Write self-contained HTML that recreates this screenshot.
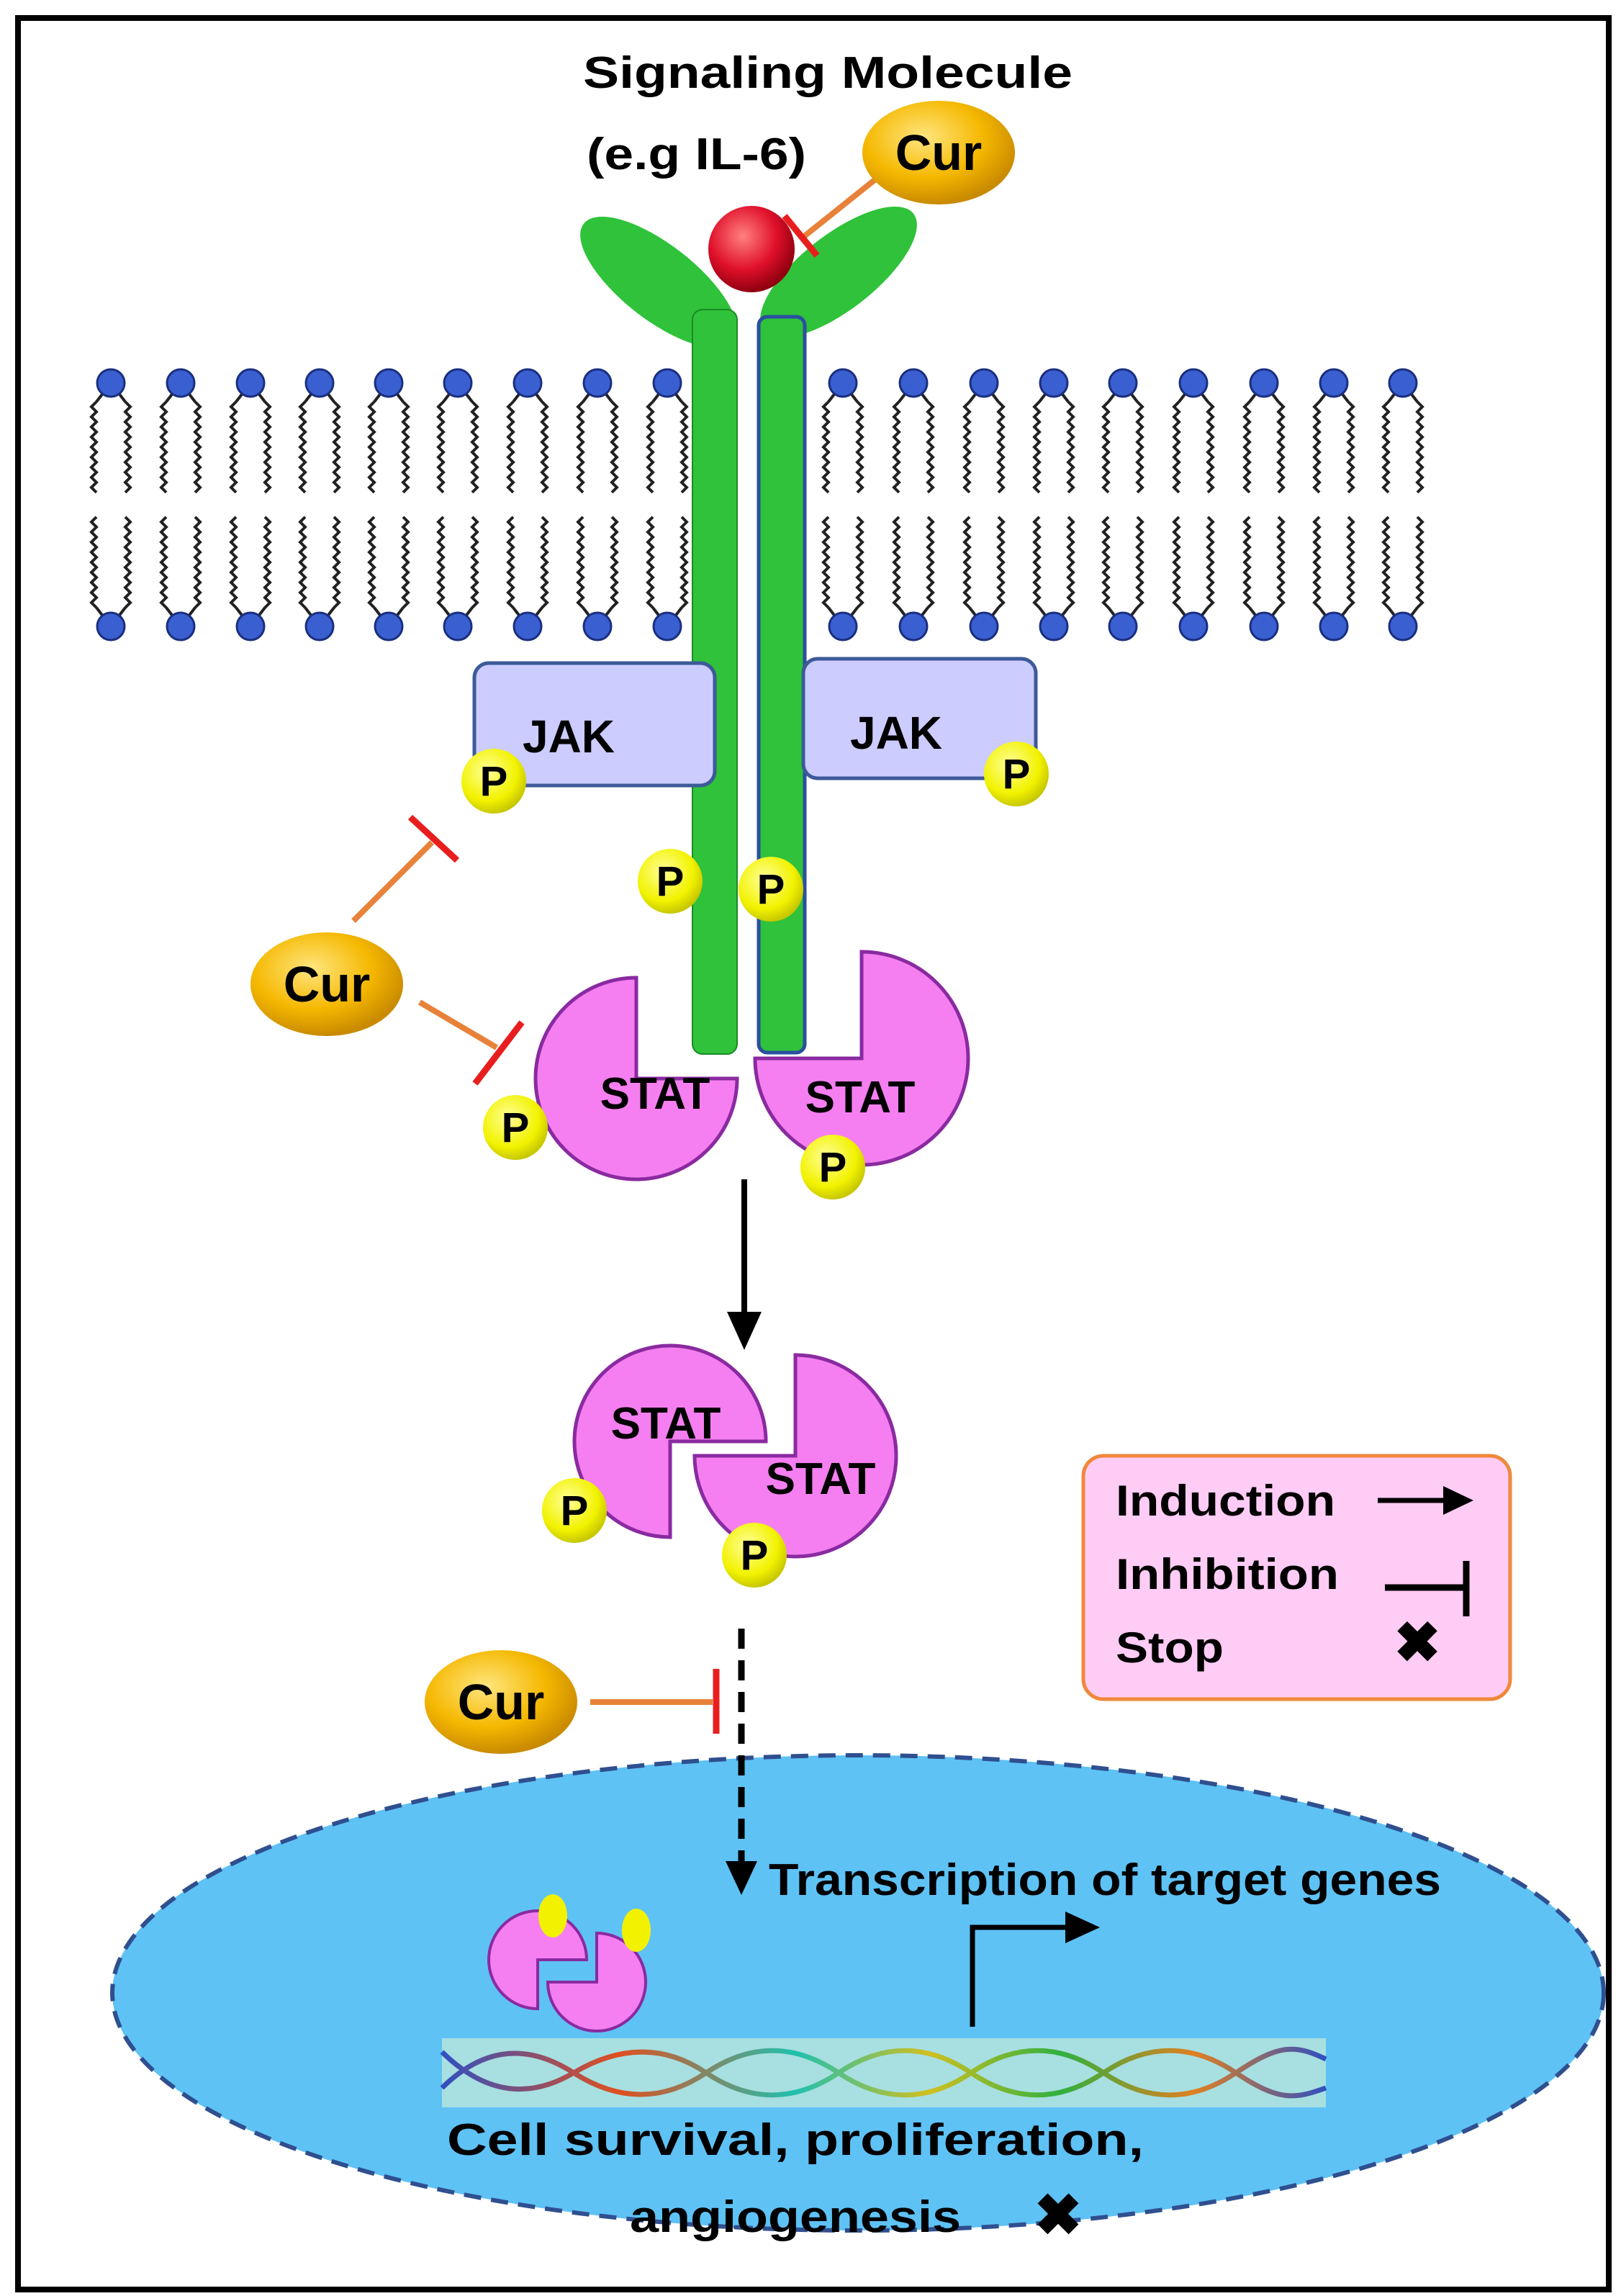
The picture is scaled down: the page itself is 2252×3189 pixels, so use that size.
<!DOCTYPE html>
<html><head><meta charset="utf-8"><style>html,body{margin:0;padding:0;background:#fff}svg{display:block}</style></head>
<body>
<svg width="2252" height="3189" viewBox="0 0 2252 3189" xmlns="http://www.w3.org/2000/svg" font-family="'Liberation Sans', sans-serif" font-weight="bold">
<defs>
<radialGradient id="gold" cx="40%" cy="35%" r="65%"><stop offset="0" stop-color="#ffe680"/><stop offset="0.6" stop-color="#f5b800"/><stop offset="1" stop-color="#c98a00"/></radialGradient>
<radialGradient id="yel" cx="40%" cy="35%" r="65%"><stop offset="0" stop-color="#ffff99"/><stop offset="0.7" stop-color="#f2f200"/><stop offset="1" stop-color="#c8c800"/></radialGradient>
<radialGradient id="red" cx="40%" cy="35%" r="65%"><stop offset="0" stop-color="#ff8080"/><stop offset="0.6" stop-color="#e0102a"/><stop offset="1" stop-color="#900010"/></radialGradient>
<linearGradient id="dnaG" x1="0" x2="1"><stop offset="0" stop-color="#3050c0"/><stop offset="0.2" stop-color="#e05020"/><stop offset="0.4" stop-color="#20c0b0"/><stop offset="0.55" stop-color="#d0c020"/><stop offset="0.7" stop-color="#30b040"/><stop offset="0.85" stop-color="#e08020"/><stop offset="1" stop-color="#3050c0"/></linearGradient>
<g id="lipU">
<path d="M0,0 L-20,26 M0,0 L20,26 M-20,26 l-7,7 l7,7 l-7,7 l7,7 l-7,7 l7,7 l-7,7 l7,7 l-7,7 l7,7 l-7,7 l7,7 l-7,7 l7,7 l-7,7 l7,7 l-7,7 l7,7 M20,26 l7,7 l-7,7 l7,7 l-7,7 l7,7 l-7,7 l7,7 l-7,7 l7,7 l-7,7 l7,7 l-7,7 l7,7 l-7,7 l7,7 l-7,7 l7,7 l-7,7" fill="none" stroke="#222" stroke-width="4"/>
<circle cx="0" cy="0" r="19" fill="#3a5fd0" stroke="#1a2f80" stroke-width="3"/>
</g>
<g id="P"><circle r="45" fill="url(#yel)"/><text x="0" y="20" font-size="58" text-anchor="middle" fill="#000">P</text></g>
<g id="CUR"><ellipse rx="106" ry="72" fill="url(#gold)"/><text x="0" y="24" font-size="70" text-anchor="middle" fill="#000">Cur</text></g>
</defs>

<rect x="25" y="25" width="2210" height="3155" fill="none" stroke="#000" stroke-width="8"/>

<g>
<use href="#lipU" x="154" y="532"/><use href="#lipU" x="251" y="532"/><use href="#lipU" x="348" y="532"/><use href="#lipU" x="444" y="532"/><use href="#lipU" x="540" y="532"/><use href="#lipU" x="636" y="532"/><use href="#lipU" x="733" y="532"/><use href="#lipU" x="830" y="532"/><use href="#lipU" x="927" y="532"/>
<use href="#lipU" x="1171" y="532"/><use href="#lipU" x="1269" y="532"/><use href="#lipU" x="1367" y="532"/><use href="#lipU" x="1464" y="532"/><use href="#lipU" x="1560" y="532"/><use href="#lipU" x="1658" y="532"/><use href="#lipU" x="1756" y="532"/><use href="#lipU" x="1853" y="532"/><use href="#lipU" x="1949" y="532"/>
<g transform="translate(0,1402) scale(1,-1)">
<use href="#lipU" x="154" y="532"/><use href="#lipU" x="251" y="532"/><use href="#lipU" x="348" y="532"/><use href="#lipU" x="444" y="532"/><use href="#lipU" x="540" y="532"/><use href="#lipU" x="636" y="532"/><use href="#lipU" x="733" y="532"/><use href="#lipU" x="830" y="532"/><use href="#lipU" x="927" y="532"/>
<use href="#lipU" x="1171" y="532"/><use href="#lipU" x="1269" y="532"/><use href="#lipU" x="1367" y="532"/><use href="#lipU" x="1464" y="532"/><use href="#lipU" x="1560" y="532"/><use href="#lipU" x="1658" y="532"/><use href="#lipU" x="1756" y="532"/><use href="#lipU" x="1853" y="532"/><use href="#lipU" x="1949" y="532"/>
</g>
</g>

<text x="1150" y="122" font-size="62" text-anchor="middle" textLength="680" lengthAdjust="spacingAndGlyphs">Signaling Molecule</text>
<text x="815" y="235" font-size="62" textLength="305" lengthAdjust="spacingAndGlyphs">(e.g IL-6)</text>

<ellipse cx="915" cy="392" rx="132" ry="52" transform="rotate(38 915 392)" fill="#2fc23a"/>
<ellipse cx="1165" cy="378" rx="132" ry="52" transform="rotate(-38 1165 378)" fill="#2fc23a"/>
<rect x="962" y="430" width="62" height="1034" rx="14" fill="#2fc23a" stroke="#1a8a25" stroke-width="2"/>
<rect x="1054" y="440" width="64" height="1022" rx="12" fill="#2fc23a" stroke="#2a4fa0" stroke-width="5"/>
<circle cx="1044" cy="346" r="60" fill="url(#red)"/>

<line x1="1215" y1="250" x2="1115" y2="330" stroke="#e8823a" stroke-width="8"/>
<line x1="1090" y1="300" x2="1135" y2="355" stroke="#e81e1e" stroke-width="9"/>
<use href="#CUR" x="1304" y="212"/>

<rect x="659" y="921" width="334" height="170" rx="20" fill="#ccccff" stroke="#3d5a99" stroke-width="5"/>
<text x="790" y="1045" font-size="64" text-anchor="middle">JAK</text>
<rect x="1116" y="915" width="323" height="166" rx="20" fill="#ccccff" stroke="#3d5a99" stroke-width="5"/>
<text x="1245" y="1040" font-size="64" text-anchor="middle">JAK</text>

<path d="M884,1498 L884,1358 A140,140 0 1 0 1024,1498 Z" fill="#f57ff0" stroke="#8a2aa0" stroke-width="5"/>
<text x="910" y="1540" font-size="62" text-anchor="middle">STAT</text>
<path d="M1197,1470 L1049,1470 A148,148 0 1 0 1197,1322 Z" fill="#f57ff0" stroke="#8a2aa0" stroke-width="5"/>
<text x="1195" y="1545" font-size="62" text-anchor="middle">STAT</text>

<use href="#P" x="686" y="1085"/><use href="#P" x="1412" y="1075"/><use href="#P" x="931" y="1224"/><use href="#P" x="1071" y="1235"/><use href="#P" x="716" y="1566"/><use href="#P" x="1157" y="1621"/>

<line x1="491" y1="1279" x2="600" y2="1170" stroke="#e8823a" stroke-width="8"/>
<line x1="570" y1="1135" x2="635" y2="1195" stroke="#e81e1e" stroke-width="9"/>
<line x1="583" y1="1392" x2="690" y2="1455" stroke="#e8823a" stroke-width="8"/>
<line x1="660" y1="1505" x2="725" y2="1420" stroke="#e81e1e" stroke-width="9"/>
<use href="#CUR" x="454" y="1367"/>

<line x1="1034" y1="1638" x2="1034" y2="1830" stroke="#000" stroke-width="8"/>
<polygon points="1010,1822 1058,1822 1034,1875" fill="#000"/>

<path d="M931,2002 L931,2135 A133,133 0 1 1 1064,2002 Z" fill="#f57ff0" stroke="#8a2aa0" stroke-width="5"/>
<text x="925" y="1998" font-size="62" text-anchor="middle">STAT</text>
<path d="M1105,2022 L1105,1882 A140,140 0 1 1 965,2022 Z" fill="#f57ff0" stroke="#8a2aa0" stroke-width="5"/>
<text x="1140" y="2075" font-size="62" text-anchor="middle">STAT</text>
<use href="#P" x="798" y="2098"/><use href="#P" x="1048" y="2160"/>

<ellipse cx="1192" cy="2768" rx="1036" ry="330" fill="#5ec2f5" stroke="#2f4f8f" stroke-width="6" stroke-dasharray="24 14"/>

<line x1="1030" y1="2262" x2="1030" y2="2590" stroke="#000" stroke-width="9" stroke-dasharray="28 16"/>
<polygon points="1008,2585 1052,2585 1030,2632" fill="#000"/>
<line x1="820" y1="2364" x2="990" y2="2364" stroke="#e8823a" stroke-width="8"/>
<line x1="995" y1="2318" x2="995" y2="2408" stroke="#e81e1e" stroke-width="9"/>
<use href="#CUR" x="696" y="2364"/>

<text x="1068" y="2632" font-size="62" textLength="934" lengthAdjust="spacingAndGlyphs">Transcription of target genes</text>

<polyline points="1351,2815 1351,2677 1485,2677" fill="none" stroke="#000" stroke-width="7"/>
<polygon points="1480,2655 1528,2677 1480,2699" fill="#000"/>

<rect x="614" y="2831" width="1228" height="96" fill="#a8dfe0"/>
<path d="M614,2900 C675,2840 736,2840 797,2879 S920,2920 981,2879 S1104,2838 1165,2879 S1288,2920 1349,2879 S1472,2838 1533,2879 S1656,2920 1717,2879 S1800,2840 1842,2860" fill="none" stroke="url(#dnaG)" stroke-width="7"/>
<path d="M614,2850 C675,2910 736,2915 797,2879 S920,2838 981,2879 S1104,2920 1165,2879 S1288,2838 1349,2879 S1472,2920 1533,2879 S1656,2838 1717,2879 S1800,2915 1842,2900" fill="none" stroke="url(#dnaG)" stroke-width="7"/>

<path d="M747,2722 L747,2790 A68,68 0 1 1 815,2722 Z" fill="#f57ff0" stroke="#8a2aa0" stroke-width="4"/>
<path d="M829,2753 L829,2685 A68,68 0 1 1 761,2753 Z" fill="#f57ff0" stroke="#8a2aa0" stroke-width="4"/>
<ellipse cx="768" cy="2661" rx="20" ry="30" fill="#f2f200"/>
<ellipse cx="884" cy="2681" rx="20" ry="30" fill="#f2f200"/>

<text x="1105" y="2993" font-size="62" text-anchor="middle" textLength="968" lengthAdjust="spacingAndGlyphs">Cell survival, proliferation,</text>
<text x="1105" y="3100" font-size="62" text-anchor="middle" textLength="460" lengthAdjust="spacingAndGlyphs">angiogenesis</text>
<text x="1470" y="3104" font-size="80" text-anchor="middle">✖</text>

<rect x="1505" y="2022" width="593" height="338" rx="28" fill="#ffccf5" stroke="#f0883a" stroke-width="5"/>
<text x="1550" y="2105" font-size="60" textLength="305" lengthAdjust="spacingAndGlyphs">Induction</text>
<text x="1550" y="2207" font-size="60" textLength="310" lengthAdjust="spacingAndGlyphs">Inhibition</text>
<text x="1550" y="2309" font-size="60" textLength="150" lengthAdjust="spacingAndGlyphs">Stop</text>
<line x1="1914" y1="2084" x2="2010" y2="2084" stroke="#000" stroke-width="7"/>
<polygon points="2005,2064 2047,2084 2005,2104" fill="#000"/>
<line x1="1924" y1="2205" x2="2037" y2="2205" stroke="#000" stroke-width="9"/>
<line x1="2037" y1="2168" x2="2037" y2="2245" stroke="#000" stroke-width="9"/>
<text x="1969" y="2308" font-size="78" text-anchor="middle">✖</text>
</svg>
</body></html>
